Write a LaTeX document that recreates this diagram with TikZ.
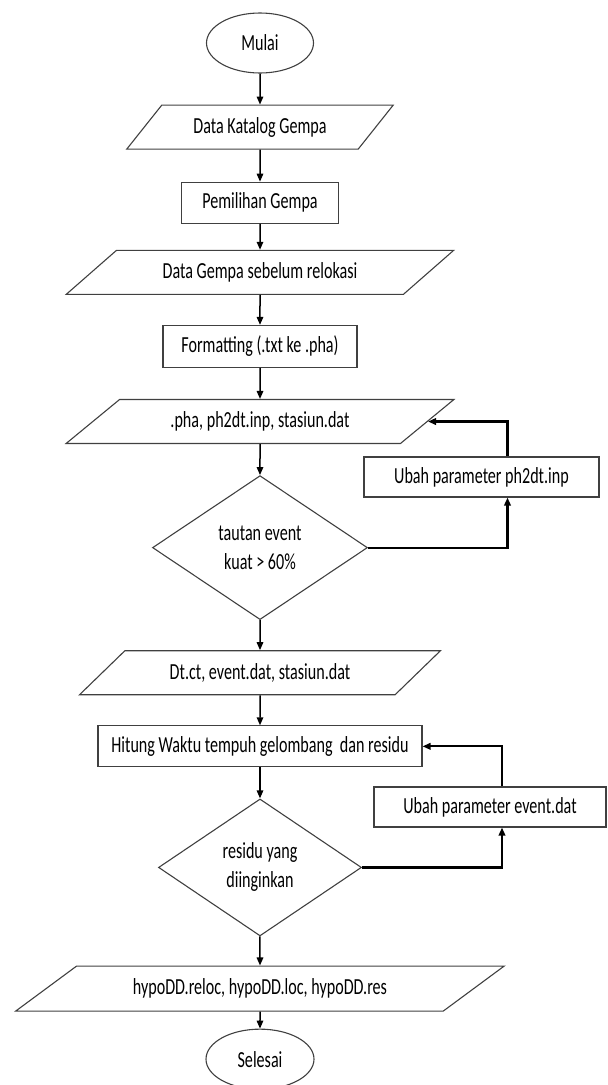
\documentclass[tikz,border=0pt]{standalone}
\usepackage{fontspec}
\setmainfont{Carlito}[FakeStretch=0.70]
\usetikzlibrary{arrows.meta,positioning,shapes.geometric}

\begin{document}
\begin{tikzpicture}[
    x=1pt, y=-1pt,
    node distance=32pt,
    every node/.style={align=center, inner sep=0pt, font=\fontsize{23}{29}\selectfont},
    terminal/.style={
        ellipse, draw=black!75, line width=1.1pt,
        minimum width=107pt, minimum height=60pt
    },
    process/.style={
        rectangle, draw=black!75, line width=1.1pt,
        minimum height=41pt
    },
    iodata/.style={
        trapezium, trapezium stretches=true,
        draw=black!75, line width=1.1pt, minimum height=44pt
    },
    decision/.style={
        diamond, draw=black!75, line width=1.1pt
    },
    arrow/.style={-{Triangle[length=8pt,width=6.5pt]}, line width=1.5pt},
    feedback/.style={-{Triangle[length=8pt,width=6.5pt]}, line width=2.2pt}
]
\useasboundingbox (0,0) rectangle (608,1085);

% alur utama
\node[terminal] (mulai) at (260,43) {Mulai};
\node[iodata, trapezium left angle=40, trapezium right angle=140,
      minimum width=267pt, below=31pt of mulai] (katalog) {Data Katalog Gempa};
\node[process, minimum width=157pt, below=of katalog] (pemilihan) {Pemilihan Gempa};
\node[iodata, trapezium left angle=30, trapezium right angle=150,
      minimum width=388pt, below=26pt of pemilihan] (sebelum) {Data Gempa sebelum relokasi};
\node[process, minimum width=194pt, minimum height=42pt, below=30pt of sebelum] (formatting) {Formatting (.txt ke .pha)};
\node[iodata, trapezium left angle=30, trapezium right angle=150,
      minimum width=388pt, below=31pt of formatting] (pha) {.pha, ph2dt.inp, stasiun.dat};
\node[decision, minimum width=215pt, minimum height=144pt, below=31pt of pha] (tautan) {tautan event\\kuat > 60\%};
\node[iodata, trapezium left angle=32, trapezium right angle=148,
      minimum width=362pt, below=30pt of tautan] (dtct) {Dt.ct, event.dat, stasiun.dat};
\node[process, minimum width=324pt, below=30pt of dtct] (hitung) {Hitung Waktu tempuh gelombang~ dan residu};
\node[decision, minimum width=203pt, minimum height=137pt, below=31pt of hitung] (residu) {residu yang\\diinginkan};
\node[iodata, trapezium left angle=25, trapezium right angle=155,
      minimum width=490pt, minimum height=45pt, below=29pt of residu] (hypodd) {hypoDD.reloc, hypoDD.loc, hypoDD.res};
\node[terminal, minimum width=108pt, below=17pt of hypodd] (selesai) {Selesai};

% kotak umpan balik
\node[process, minimum width=235pt, minimum height=40pt] (ubahph) at (481.5,477) {Ubah parameter ph2dt.inp};
\node[process, minimum width=232pt, minimum height=40pt] (ubahev) at (490,807) {Ubah parameter event.dat};

\draw[arrow] (mulai) -- (katalog);
\draw[arrow] (katalog) -- (pemilihan);
\draw[arrow] (pemilihan) -- (sebelum);
\draw[arrow] (sebelum) -- (formatting);
\draw[arrow] (formatting) -- (pha);
\draw[arrow] (pha) -- (tautan);
\draw[arrow] (tautan) -- (dtct);
\draw[arrow] (dtct) -- (hitung);
\draw[arrow] (hitung) -- (residu);
\draw[arrow] (residu) -- (hypodd);
\draw[arrow] (hypodd) -- (selesai);

\draw[feedback] (tautan.east) -| ([xshift=26pt]ubahph.south);
\draw[feedback] ([xshift=26pt]ubahph.north) |- (pha.east);
\draw[feedback] (residu.east) -| ([xshift=12pt]ubahev.south);
\draw[feedback] ([xshift=12pt]ubahev.north) |- (hitung.east);

\end{tikzpicture}
\end{document}
